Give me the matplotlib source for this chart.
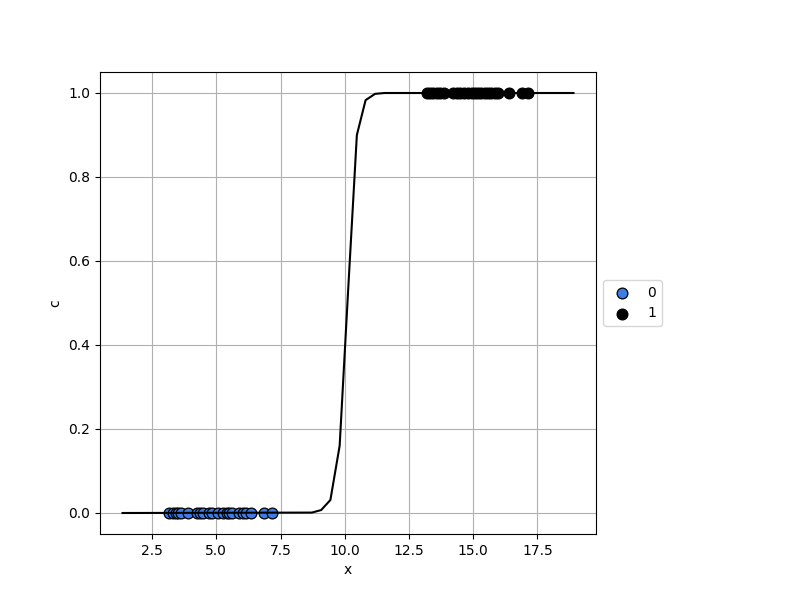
import matplotlib
matplotlib.use("Agg")
import matplotlib.pyplot as plt

# class 0 observations (c = 0)
x0 = [3.17, 3.30, 3.42, 3.52, 3.62, 3.90, 4.25, 4.35, 4.48, 4.70, 4.85, 5.05,
      5.25, 5.40, 5.50, 5.62, 5.90, 6.05, 6.15, 6.35, 6.85, 7.15]
c0 = [0] * len(x0)
# class 1 observations (c = 1)
x1 = [13.20, 13.32, 13.45, 13.58, 13.72, 13.85, 14.20, 14.35, 14.50, 14.65,
      14.80, 14.95, 15.05, 15.18, 15.32, 15.45, 15.58, 15.70, 15.85, 15.98,
      16.40, 16.90, 17.15]
c1 = [1] * len(x1)

# fitted curve vertices
curve_x = [1.35, 8.72, 9.08, 9.44, 9.80, 10.13, 10.47, 10.81, 11.18, 11.55, 18.9]
curve_y = [0.0, 0.001, 0.007, 0.031, 0.160, 0.530, 0.900, 0.983, 0.998, 1.0, 1.0]

fig, ax = plt.subplots(figsize=(8, 6), dpi=100)
ax.plot(curve_x, curve_y, color="black", lw=1.5)
ax.scatter(x0, c0, s=60, color="#3c7de6", edgecolor="black", linewidths=0.9, label="0")
ax.scatter(x1, c1, s=60, color="black", edgecolor="black", linewidths=0.9, label="1")
ax.set_xlabel("x")
ax.set_ylabel("c")
ax.grid(True)
ax.set_axisbelow(True)
box = ax.get_position()
ax.set_position([box.x0, box.y0, box.width * 0.8, box.height])
ax.legend(loc="center left", bbox_to_anchor=(1, 0.5))
fig.savefig("out.png", dpi=100)
